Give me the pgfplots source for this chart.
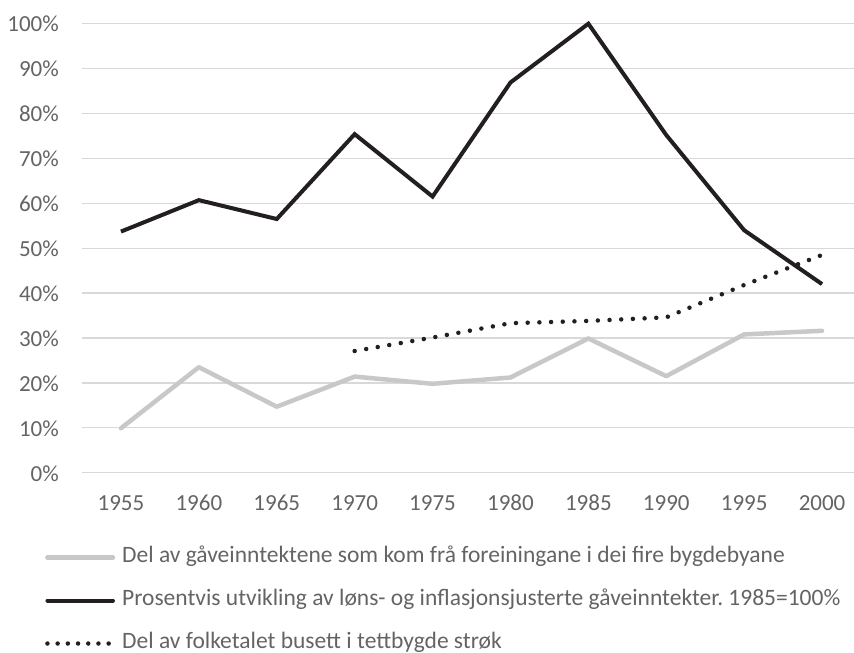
\documentclass[border=0pt]{standalone}
\usepackage{fontspec}
\setmainfont{Carlito}
\usepackage{pgfplots}
\pgfplotsset{compat=1.18}
\definecolor{gridc}{RGB}{217,217,217}
\definecolor{txtc}{RGB}{100,100,100}
\definecolor{grayline}{RGB}{200,200,200}
\definecolor{blk}{RGB}{35,31,32}
\pgfplotsset{
  leglong/.style={legend image code/.code={\draw[##1, line cap=round] (2.5bp,0bp) -- (68bp,0bp);}},
  legdot/.style={legend image code/.code={\draw[##1, dash pattern=on 0pt off 10.2bp] (2.5bp,0bp) -- (63.8bp,0bp);}},
}
\begin{document}
\frenchspacing
\begin{tikzpicture}
\useasboundingbox (0,0) rectangle (854bp,653bp);
\begin{axis}[
  at={(82bp,180.3bp)}, anchor=south west, scale only axis,
  width=772bp, height=449bp,
  xmin=1952.5, xmax=2002.05, ymin=0, ymax=100,
  clip=false,
  axis line style={draw=none},
  major tick style={draw=none},
  ymajorgrids, grid style={gridc, line width=1.3bp},
  xtick={1955,1960,1965,1970,1975,1980,1985,1990,1995,2000},
  xticklabels={1955,1960,1965,1970,1975,1980,1985,1990,1995,2000},
  ytick={0,10,20,30,40,50,60,70,80,90,100},
  yticklabels={0\%,10\%,20\%,30\%,40\%,50\%,60\%,70\%,80\%,90\%,100\%},
  ticklabel style={font=\fontsize{23bp}{27bp}\selectfont, text=txtc, inner sep=0pt},
  xticklabel style={anchor=base, yshift=-37.3bp},
  yticklabel style={anchor=base east, xshift=-23bp, yshift=-8.3bp},
  legend cell align=left,
  legend style={at={(-0.0518,-0.1595)}, anchor=north west, draw=none, fill=none,
    font=\fontsize{23.5bp}{27bp}\selectfont, text=txtc,
    nodes={inner sep=0pt, text height=16bp, text depth=6bp},
    row sep=21bp, column sep=7bp},
]
\addplot[grayline, line width=4.5bp, line join=round, line cap=round, leglong]
  coordinates {(1955,9.9) (1960,23.5) (1965,14.7) (1970,21.4) (1975,19.8) (1980,21.2) (1985,29.9) (1990,21.5) (1995,30.8) (2000,31.6)};
\addlegendentry{Del av gåveinntektene som kom frå foreiningane i dei fire bygdebyane}
\addplot[blk, line width=4bp, line join=miter, leglong]
  coordinates {(1955,53.7) (1960,60.7) (1965,56.5) (1970,75.4) (1975,61.5) (1980,86.9) (1985,100) (1990,75.2) (1995,54.0) (2000,42.0)};
\addlegendentry{Prosentvis utvikling av løns- og inflasjonsjusterte gåveinntekter. 1985=100\%}
\addplot[blk, line width=4.5bp, line cap=round, dash pattern=on 0pt off 11.7bp, legdot]
  coordinates {(1970,27.1) (1975,30.1) (1980,33.3) (1985,33.8) (1990,34.6) (1995,41.8) (2000,48.5)};
\addlegendentry{Del av folketalet busett i tettbygde strøk}
\end{axis}
\end{tikzpicture}
\end{document}
